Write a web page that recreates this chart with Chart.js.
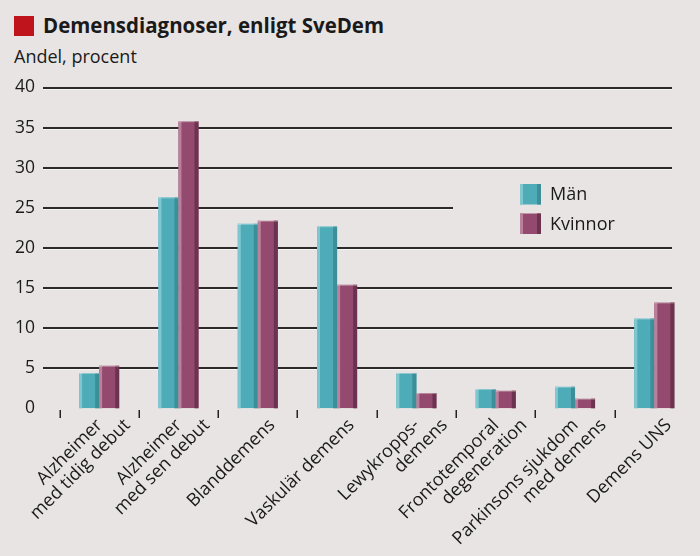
<!DOCTYPE html>
<html>
<head>
<meta charset="utf-8">
<script src="https://cdn.jsdelivr.net/npm/chart.js@4.4.0/dist/chart.umd.min.js"></script>
<style>
  html, body { margin: 0; padding: 0; background: #e8e4e3; }
  #wrap { position: relative; width: 700px; height: 556px; overflow: hidden; }
  #title { position: absolute; left: 14px; top: 9px; font: bold 22px "Open Sans", sans-serif; color: #1a1a1a; white-space: nowrap; }
  #title .sq { display: inline-block; width: 20px; height: 20px; background: #c0141c; vertical-align: -3px; margin-right: 9px; }
  #title .tx { display: inline-block; transform: scaleX(0.93); transform-origin: left center; }
  #sub { position: absolute; left: 14px; top: 44px; font: 18px "Open Sans", sans-serif; color: #1a1a1a; }
  canvas { position: absolute; left: 0; top: 0; }
</style>
</head>
<body>
<div id="wrap">
  <div id="title"><span class="sq"></span><span class="tx">Demensdiagnoser, enligt SveDem</span></div>
  <div id="sub">Andel, procent</div>
  <canvas id="chart" width="700" height="556"></canvas>
</div>
<script>
// data
const categories = [
  ['Alzheimer', 'med tidig debut'],
  ['Alzheimer', 'med sen debut'],
  ['Blanddemens'],
  ['Vaskulär demens'],
  ['Lewykropps-', 'demens'],
  ['Frontotemporal', 'degeneration'],
  ['Parkinsons sjukdom', 'med demens'],
  ['Demens UNS']
]
const man = [4.4, 26.3, 23.0, 22.7, 4.4, 2.4, 2.7, 11.2]
const kvinnor = [5.3, 35.8, 23.4, 15.4, 1.9, 2.2, 1.2, 13.2]
const yTicks = [0, 5, 10, 15, 20, 25, 30, 35, 40]

const FONT = '"Open Sans", sans-serif'
const shades = {
  'Män': { light: '#7fc7cf', dark: '#3c8e99' },
  'Kvinnor': { light: '#b9819c', dark: '#6c3350' }
}

// grid lines, the 25 line stops short of the legend
const gridPlugin = {
  id: 'grid',
  beforeDatasetsDraw(chart) {
    const ctx = chart.ctx, y = chart.scales.y
    ctx.save()
    yTicks.forEach(function (v) {
      if (v === 0) return
      const py = Math.round(y.getPixelForValue(v))
      const x1 = v === 25 ? 453 : 672
      ctx.fillStyle = '#f6f4f3'
      ctx.fillRect(43, py + 1, x1 - 43, 1)
      ctx.fillStyle = '#2a2a2a'
      ctx.fillRect(43, py - 1, x1 - 43, 2)
    })
    ctx.restore()
  }
}

// light/dark edges on bars
const bevelPlugin = {
  id: 'bevel',
  afterDatasetsDraw(chart) {
    const ctx = chart.ctx
    ctx.save()
    chart.data.datasets.forEach(function (ds, di) {
      const meta = chart.getDatasetMeta(di)
      const s = shades[ds.label]
      meta.data.forEach(function (bar) {
        const l = bar.x - bar.width / 2, r = bar.x + bar.width / 2
        const h = bar.base - bar.y
        ctx.fillStyle = s.light
        ctx.fillRect(l, bar.y, 3, h)
        ctx.fillStyle = s.dark
        ctx.fillRect(r - 4, bar.y, 4, h)
        ctx.fillStyle = 'rgba(255,255,255,0.35)'
        ctx.fillRect(l, bar.y, r - l, 1)
      })
    })
    ctx.restore()
  }
}

// tick marks between categories, rotated labels and legend
const labelPlugin = {
  id: 'labels',
  afterDraw(chart) {
    const ctx = chart.ctx, x = chart.scales.x
    const step = x.getPixelForValue(1) - x.getPixelForValue(0)
    ctx.save()
    ctx.fillStyle = '#222'
    categories.forEach(function (c, i) {
      const cx = x.getPixelForValue(i)
      ctx.fillRect(Math.round(cx - step / 2) - 0.5, 410, 1.5, 8)
    })
    ctx.font = '18px ' + FONT
    ctx.fillStyle = '#1a1a1a'
    ctx.textAlign = 'right'
    ctx.textBaseline = 'top'
    categories.forEach(function (lines, i) {
      const cx = x.getPixelForValue(i)
      const n = lines.length
      lines.forEach(function (t, j) {
        const xe = cx + 8 - (n - 1) * 14 + j * 28
        ctx.save()
        ctx.translate(xe, 416)
        ctx.rotate(-Math.PI / 4)
        ctx.fillText(t, 0, 0)
        ctx.restore()
      })
    })
    // legend
    ctx.font = '18px ' + FONT
    ctx.textAlign = 'left'
    ctx.textBaseline = 'middle'
    chart.data.datasets.forEach(function (ds, di) {
      const top = 184 + di * 29.5
      const s = shades[ds.label]
      ctx.fillStyle = ds.backgroundColor
      ctx.fillRect(520, top, 21, 20.5)
      ctx.fillStyle = s.light
      ctx.fillRect(520, top, 3, 20.5)
      ctx.fillStyle = s.dark
      ctx.fillRect(537, top, 4, 20.5)
      ctx.fillStyle = '#1a1a1a'
      ctx.fillText(ds.label, 550, top + 11)
    })
    ctx.restore()
  }
}

new Chart(document.getElementById('chart'), {
  type: 'bar',
  data: {
    labels: categories,
    datasets: [
      { label: 'Män', data: man, backgroundColor: '#4eabb8' },
      { label: 'Kvinnor', data: kvinnor, backgroundColor: '#944a6e' }
    ]
  },
  options: {
    responsive: false,
    animation: false,
    devicePixelRatio: 1,
    layout: { padding: { top: 87.5, left: 0, right: 6, bottom: 147.7 } },
    datasets: { bar: { barPercentage: 1, categoryPercentage: 0.505, borderWidth: 0 } },
    plugins: { legend: { display: false }, tooltip: { enabled: false } },
    scales: {
      x: {
        grid: { display: false },
        border: { display: false },
        ticks: { display: false },
        afterFit: function (s) { s.height = 0 }
      },
      y: {
        min: 0, max: 40,
        afterBuildTicks: function (s) { s.ticks = yTicks.map(function (v) { return { value: v } }) },
        grid: { display: false, drawTicks: false },
        border: { display: false },
        ticks: { padding: 24.5, color: '#1a1a1a', font: { family: FONT, size: 17.5 } },
        afterFit: function (s) { s.width = 59.5 }
      }
    }
  },
  plugins: [gridPlugin, bevelPlugin, labelPlugin]
})
</script>
</body>
</html>
